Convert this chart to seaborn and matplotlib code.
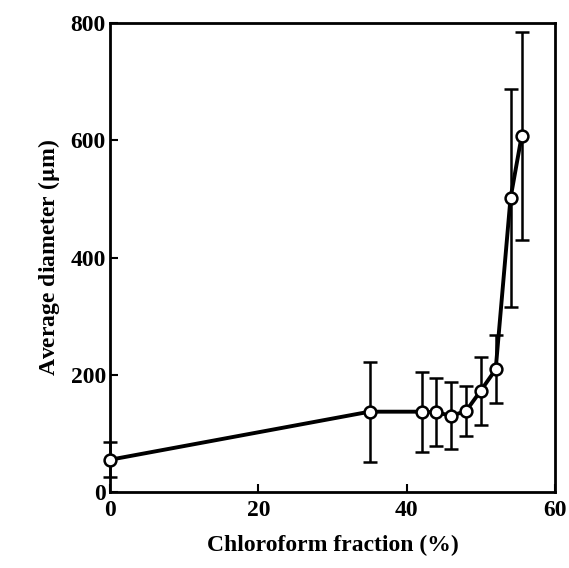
import numpy as np
import pandas as pd
import matplotlib
matplotlib.use("Agg")
import matplotlib.pyplot as plt
import seaborn as sns

# Data
chloroform = [0, 35, 42, 44, 46, 48, 50, 52, 54, 55.5]
diameter = [55, 137, 137, 136, 130, 138, 173, 209, 501, 607]
err = [30, 85, 68, 58, 57, 43, 58, 58, 186, 178]

x_ticks = [0, 20, 40, 60]
y_ticks = [0, 200, 400, 600, 800]

df = pd.DataFrame({"frac": chloroform, "diam": diameter, "err": err})

sns.set_style("ticks", {"axes.edgecolor": "black", "text.color": "black",
                        "xtick.color": "black", "ytick.color": "black",
                        "axes.labelcolor": "black"})
plt.rcParams['font.family'] = ['Liberation Serif', 'DejaVu Serif']
plt.rcParams['font.weight'] = 'bold'
plt.rcParams['mathtext.fontset'] = 'stix'

fig = plt.figure(figsize=(5.69, 5.68), dpi=100)
ax = fig.add_axes([110 / 569, (568 - 492) / 568, (555 - 110) / 569, (492 - 23) / 568])

eb = ax.errorbar(df["frac"], df["diam"], yerr=df["err"], fmt="none",
                 ecolor="black", elinewidth=1.8, capsize=5, capthick=1.8, zorder=2)
for part in eb.lines[1] + eb.lines[2]:
    part.set_clip_on(False)
sns.lineplot(data=df, x="frac", y="diam", ax=ax, color="black", linewidth=2.8,
             marker="o", markersize=8.5, markerfacecolor="white",
             markeredgecolor="black", markeredgewidth=1.8, zorder=3)
for ln in ax.lines:
    ln.set_clip_on(False)

ax.set_xlim(0, 60)
ax.set_ylim(0, 800)
ax.set_xticks(x_ticks)
ax.set_yticks(y_ticks)
ax.set_xticklabels([str(t) for t in x_ticks], fontsize=17, fontweight='bold')
ax.set_yticklabels([str(t) for t in y_ticks], fontsize=17, fontweight='bold')
ax.tick_params(direction="in", length=6, width=1.5, pad=6, colors="black")
ax.tick_params(axis="y", pad=3)

for s in ax.spines.values():
    s.set_linewidth(2)
    s.set_visible(True)
    s.set_color("black")

ax.set_xlabel("Chloroform fraction (%)", fontsize=17, fontweight='bold', labelpad=10)
ax.set_ylabel("Average diameter ($\\mathbf{\\mu}$m)", fontsize=17, fontweight='bold', labelpad=6)

fig.savefig("out.png", dpi=100)
